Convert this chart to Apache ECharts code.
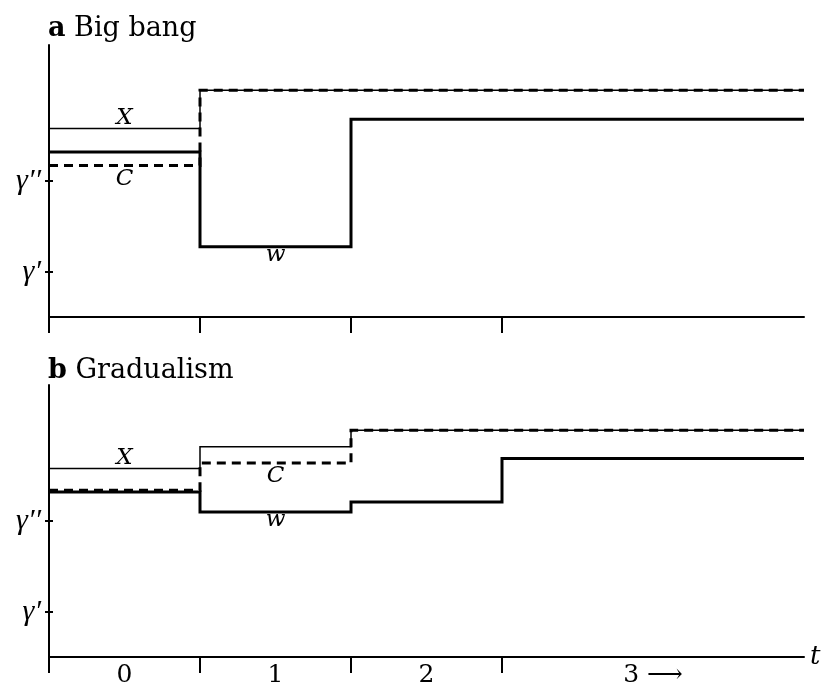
<!DOCTYPE html>
<html><head><meta charset="utf-8">
<script src="https://cdn.jsdelivr.net/npm/echarts@6/dist/echarts.min.js"></script>
<style>html,body{margin:0;padding:0;background:#fff}#c{width:826px;height:690px}</style>
</head><body><div id="c"></div>
<script>
// ---- data ----
const periods = [0, 1, 2, 3, 5];
const a_X = [2.08, 2.50, 2.50, 2.50, 2.50];
const a_w = [1.82, 0.775, 2.18, 2.18, 2.18];
const a_C = [1.67, 2.50, 2.50, 2.50, 2.50];
const b_X = [2.08, 2.32, 2.50, 2.50, 2.50];
const b_C = [1.84, 2.14, 2.50, 2.50, 2.50];
const b_w = [1.82, 1.60, 1.71, 2.19, 2.19];
const yTickValues = [0.5, 1.5];
const yTickLabels = ['γ′', 'γ′′'];
const xTickValues = [0, 1, 2, 3];
const xLabelValues = [0.5, 1.5, 2.5, 4];
const xLabels = ['0', '1', '2', '3 ⟶'];
const titles = ['Big bang', 'Gradualism'];
const panelLetters = ['a', 'b'];

// ---- chart ----
const FONT = '"DejaVu Serif", "Liberation Serif", serif';
const GFONT = '"Liberation Serif", "DejaVu Serif", serif';
const chart = echarts.init(document.getElementById('c'), null, {renderer: 'canvas'});
const pts = arr => periods.map((p, i) => [p, arr[i]]);
const tops = [45, 385];
const titleTops = [10, 352];

const grids = tops.map(t => ({left: 49, top: t, width: 755, height: 272}));

const xAxes = tops.map((t, gi) => ({
  type: 'value', gridIndex: gi, min: 0, max: 5, interval: 1,
  splitLine: {show: false},
  axisLine: {show: true, lineStyle: {color: '#000', width: 2}},
  axisTick: {show: true, inside: false, length: 16, lineStyle: {color: '#000', width: 2}, customValues: xTickValues},
  axisLabel: gi === 1 ? {
    show: true, customValues: xLabelValues, margin: 6,
    formatter: v => xLabels[xLabelValues.indexOf(v)],
    color: '#000', fontFamily: FONT, fontSize: 25
  } : {show: false},
  name: gi === 1 ? 't' : '', nameLocation: 'end', nameGap: 6,
  nameTextStyle: {color: '#000', fontFamily: FONT, fontSize: 26, fontStyle: 'italic', verticalAlign: 'middle', padding: [0,0,4,0]}
}));

const yAxes = [];
tops.forEach((t, gi) => {
  yAxes.push({
    type: 'value', gridIndex: gi, min: 0, max: 3, interval: 0.5,
    splitLine: {show: false},
    axisLine: {show: true, lineStyle: {color: '#000', width: 2}},
    axisTick: {show: true, inside: false, length: 4, lineStyle: {color: '#000', width: 2}, customValues: yTickValues},
    axisLabel: {show: true, customValues: yTickValues, margin: 8,
      formatter: v => yTickLabels[yTickValues.indexOf(v)],
      color: '#000', fontFamily: GFONT, fontSize: 30, fontStyle: 'italic'}
  });
});
tops.forEach((t, gi) => {
  yAxes.push({
    type: 'value', gridIndex: gi, min: 0, max: 3, interval: 0.5, position: 'left',
    splitLine: {show: false},
    axisLine: {show: false},
    axisTick: {show: true, inside: true, length: 4, lineStyle: {color: '#000', width: 2}, customValues: yTickValues},
    axisLabel: {show: false}
  });
});

const lblStyle = {color: '#000', fontFamily: FONT, fontSize: 23, fontStyle: 'italic'};
function mp(coord, text, pos, dist) {
  return {coord: coord, symbol: 'circle', symbolSize: 0,
    label: Object.assign({show: true, formatter: text, position: pos, distance: dist}, lblStyle)};
}
function line(gi, data, kind, marks) {
  const s = {
    type: 'line', xAxisIndex: gi, yAxisIndex: gi, step: 'end', data: pts(data),
    showSymbol: false, symbol: 'none', animation: false, silent: true,
    lineStyle: {color: '#000', width: kind === 'thin' ? 1.5 : 3, type: kind === 'dash' ? [9, 6] : 'solid', cap: 'butt', join: 'miter'},
    z: kind === 'thin' ? 2 : (kind === 'dash' ? 4 : 3)
  };
  if (marks) s.markPoint = {silent: true, animation: false, data: marks};
  return s;
}

const series = [
  line(0, a_X, 'thin', [mp([0.5, a_X[0]], 'X', 'top', -1)]),
  line(0, a_w, 'thick', [mp([1.5, a_w[1]], 'w', 'bottom', -3)]),
  line(0, a_C, 'dash', [mp([0.5, a_C[0]], 'C', 'bottom', 2)]),
  line(1, b_X, 'thin', [mp([0.5, b_X[0]], 'X', 'top', -1)]),
  line(1, b_w, 'thick', [mp([1.5, b_w[1]], 'w', 'bottom', -3)]),
  line(1, b_C, 'dash', [mp([1.5, b_C[1]], 'C', 'bottom', 2)])
];

const titleOpts = tops.map((t, gi) => ({
  text: '{b|' + panelLetters[gi] + '} ' + titles[gi],
  left: 43, top: titleTops[gi],
  textStyle: {color: '#000', fontFamily: FONT, fontSize: 27, fontWeight: 'normal',
    rich: {b: {fontFamily: FONT, fontSize: 27, fontWeight: 'bold', color: '#000'}}}
}));

chart.setOption({
  animation: false,
  backgroundColor: '#fff',
  title: titleOpts,
  grid: grids,
  xAxis: xAxes,
  yAxis: yAxes,
  series: series
});
</script>
</body></html>
